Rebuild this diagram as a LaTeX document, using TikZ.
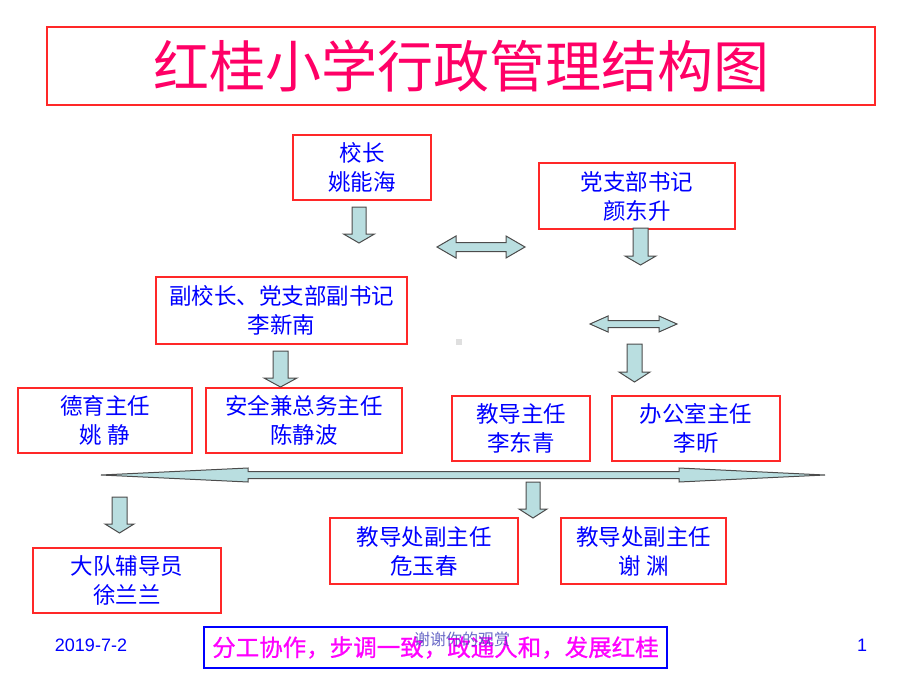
\documentclass[tikz,border=0pt]{standalone}
\usepackage{fontspec}
\setmainfont{Liberation Sans}
\newfontfamily\cjk{Noto Sans CJK SC}
\newfontfamily\cjkheavy{Noto Sans CJK SC}[FakeBold=0.8]
\usepackage{xcolor}
\usepackage{tikz}
\usetikzlibrary{arrows.meta,shapes}
\definecolor{boxred}{RGB}{255,40,40}
\definecolor{titlered}{RGB}{255,0,102}
\definecolor{arrowblue}{RGB}{185,222,224}
\definecolor{motto}{RGB}{255,0,255}

\begin{document}
\begin{tikzpicture}[x=1pt,y=-1pt,
post/.style={draw=boxred,line width=1.4pt,text=blue,align=center,
  font=\cjk\fontsize{22.5}{29}\selectfont,minimum height=65pt,inner sep=0pt},
blockarrow/.style={fill=arrowblue,draw=black!70,line width=1pt,line join=miter}]
\useasboundingbox (0,0) rectangle (920,690);
% title
\node[draw=boxred,line width=1.4pt,text=titlered,font=\cjk\fontsize{56}{60}\selectfont,
  minimum width=828pt,minimum height=78pt](title)at(461,66){红桂小学行政管理结构图};
% posts
\node[post,minimum width=138pt](head)at(362,167.5){校长\\姚能海};
\node[post,minimum width=196pt,minimum height=66pt](party)at(637,196){党支部书记\\颜东升};
\node[post,minimum width=251pt,minimum height=67pt](vice)at(281.5,310.5){副校长、党支部副书记\\李新南};
\node[post,minimum width=174pt](moral)at(105,420.5){德育主任\\姚 静};
\node[post,minimum width=196pt](safety)at(304,420.5){安全兼总务主任\\陈静波};
\node[post,minimum width=138pt](teach)at(521,428.5){教导主任\\李东青};
\node[post,minimum width=168pt](office)at(696,428.5){办公室主任\\李昕};
\node[post,minimum width=188pt,minimum height=66pt](deputyA)at(424,551){教导处副主任\\危玉春};
\node[post,minimum width=165pt,minimum height=66pt](deputyB)at(643.5,551){教导处副主任\\谢 渊};
\node[post,minimum width=188pt](brigade)at(127,580.5){大队辅导员\\徐兰兰};
% block arrows down
\draw[blockarrow](352,207)--++(14,0)--++(0,27)--++(8.5,0)--++(-15.5,9)--++(-15.5,-9)--++(8.5,0)--cycle;
\draw[blockarrow](633,228)--++(15,0)--++(0,28)--++(8,0)--++(-15.5,9)--++(-15.5,-9)--++(8,0)--cycle;
\draw[blockarrow](627,344)--++(15,0)--++(0,28)--++(8,0)--++(-15.5,10)--++(-15.5,-10)--++(8,0)--cycle;
\draw[blockarrow](273,351)--++(15,0)--++(0,27)--++(9,0)--++(-16.5,9)--++(-16.5,-9)--++(9,0)--cycle;
\draw[blockarrow](526,482)--++(14,0)--++(0,27)--++(7,0)--++(-14,9)--++(-14,-9)--++(7,0)--cycle;
\draw[blockarrow](112,497)--++(15,0)--++(0,27)--++(7,0)--++(-14.5,9)--++(-14.5,-9)--++(7,0)--cycle;
% block arrows both ways
\draw[blockarrow](437,247)--(456,236)--(456,242.5)--(506,242.5)--(506,236)--(525,247)
  --(506,258)--(506,251.5)--(456,251.5)--(456,258)--cycle;
\draw[blockarrow](590,324)--(608,316)--(608,320.5)--(659,320.5)--(659,316)--(677,324)
  --(659,332)--(659,327.5)--(608,327.5)--(608,332)--cycle;
\draw[blockarrow](101,475)--(248,468)--(248,471.5)--(679,471.5)--(679,468)--(825,475)
  --(679,482)--(679,478.5)--(248,478.5)--(248,482)--cycle;
\fill[gray!25](456,339)rectangle(462,345);
% footer
\node[draw=blue,line width=2.8pt,text=motto,font=\cjkheavy\fontsize{23.5}{25}\selectfont,
  minimum width=463pt,minimum height=41pt,inner sep=0pt](slogan)at(435.5,647.5){分工协作，步调一致，政通人和，发展红桂};
\node[text=blue!45!gray,opacity=0.8,font=\cjk\fontsize{16}{17}\selectfont](thanks)at(462,639){谢谢你的观赏};
\node[text=blue,font=\fontsize{18}{20}\selectfont](date)at(91,645){2019-7-2};
\node[text=blue,font=\fontsize{18}{20}\selectfont](page)at(862,645){1};
\end{tikzpicture}
\end{document}
